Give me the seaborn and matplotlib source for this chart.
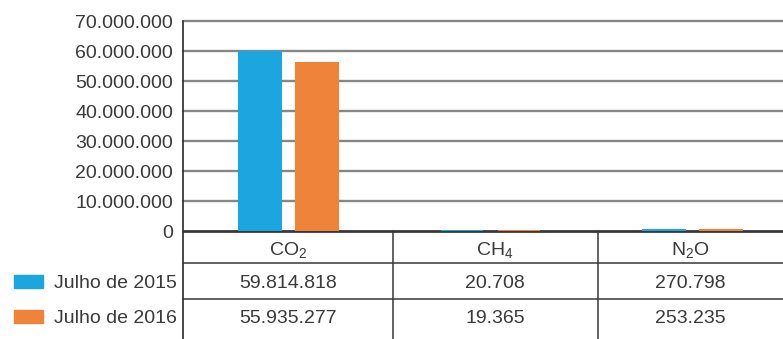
import matplotlib
matplotlib.use("Agg")
import matplotlib.pyplot as plt
import seaborn as sns
import pandas as pd
from matplotlib.ticker import FuncFormatter
from matplotlib.patches import Rectangle

# ---- data ----
gases = ["CO2", "CH4", "N2O"]
gas_labels = [r"CO$_2$", r"CH$_4$", r"N$_2$O"]
series = ["Julho de 2015", "Julho de 2016"]
jul_2015 = [59814818, 20708, 270798]
jul_2016 = [55935277, 19365, 253235]
colors = ["#1ca6e0", "#f0833a"]
y_ticks = [0, 10_000_000, 20_000_000, 30_000_000, 40_000_000,
           50_000_000, 60_000_000, 70_000_000]

sns.set_theme(style="white")
plt.rcParams["font.family"] = ["Liberation Sans", "DejaVu Sans"]
plt.rcParams["mathtext.fontset"] = "custom"
plt.rcParams["mathtext.rm"] = "Liberation Sans"
plt.rcParams["mathtext.it"] = "Liberation Sans:italic"
plt.rcParams["mathtext.bf"] = "Liberation Sans:bold"

TXT = "#3a3a3a"
GRID = "#878787"
DARK = "#383838"
FS = 14


def fmt(v):
    return f"{int(round(v)):,}".replace(",", ".")


df = pd.DataFrame({
    "gas": gases * 2,
    "period": [series[0]] * len(gases) + [series[1]] * len(gases),
    "value": jul_2015 + jul_2016,
})

W, H = 783, 339
fig = plt.figure(figsize=(W / 100, H / 100), dpi=100)
ax = fig.add_axes([183 / W, (H - 231) / H, 600 / W, 210 / H])

sns.barplot(data=df, x="gas", y="value", hue="period", hue_order=series,
            order=gases, palette=colors, width=0.564, gap=0.262,
            saturation=1, ax=ax, legend=False, zorder=3, errorbar=None)
for p in ax.patches:
    p.set_edgecolor(p.get_facecolor())
    p.set_linewidth(1.5)

XL = (-0.520, 2.450)
ax.set_xlim(*XL)
ax.set_ylim(0, 70_000_000)
ax.set_yticks(y_ticks)
ax.yaxis.set_major_formatter(FuncFormatter(lambda v, _: fmt(v)))
ax.set_xticks([])
ax.set_xlabel("")
ax.set_ylabel("")
ax.tick_params(axis="y", length=0, pad=7.2, labelsize=FS, labelcolor=TXT)
for s in ax.spines.values():
    s.set_visible(False)

# gridlines
for t in y_ticks[1:]:
    ax.axhline(t, color=GRID, lw=1.7, zorder=1, clip_on=False)
ax.axhline(0, color=DARK, lw=2.0, zorder=2, clip_on=False)

# left axis line extending through the table
ax.plot([0, 0], [1.0, -0.52], transform=ax.transAxes, color=DARK,
        lw=1.3, clip_on=False, zorder=4)

xt = ax.get_xaxis_transform()
# table horizontal lines
for yy in (-0.152, -0.324):
    ax.plot(list(XL), [yy, yy], transform=xt, color=DARK, lw=1.1,
            clip_on=False, zorder=4)
# column dividers
for xx in (0.52, 1.535):
    ax.plot([xx, xx], [0, -0.52], transform=xt, color=DARK, lw=1.1,
            clip_on=False, zorder=4)

# table text (cell centres)
cell_x = [0.0, 1.025, 1.99]
for i, lab in enumerate(gas_labels):
    cx = cell_x[i]
    ax.text(cx, -0.1143, lab, transform=xt, ha="center", va="baseline",
            fontsize=FS, color=TXT, clip_on=False)
    ax.text(cx, -0.2714, fmt(jul_2015[i]), transform=xt, ha="center",
            va="baseline", fontsize=FS, color=TXT, clip_on=False)
    ax.text(cx, -0.438, fmt(jul_2016[i]), transform=xt, ha="center",
            va="baseline", fontsize=FS, color=TXT, clip_on=False)

# legend column
for k, (name, col) in enumerate(zip(series, colors)):
    base = 288 if k == 0 else 323
    fig.patches.append(Rectangle((14 / W, (H - base) / H), 29 / W, 13 / H,
                                 transform=fig.transFigure, color=col))
    fig.text(177 / W, (H - base) / H, name, ha="right", va="baseline",
             fontsize=FS, color=TXT)

fig.savefig("out.png", dpi=100)
